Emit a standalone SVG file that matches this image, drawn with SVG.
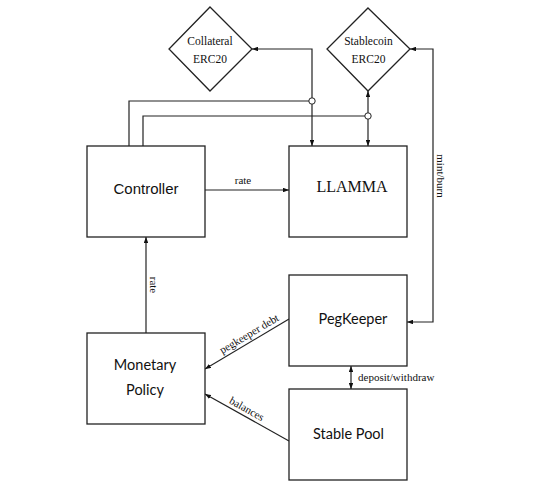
<svg xmlns="http://www.w3.org/2000/svg" width="549" height="501" viewBox="0 0 549 501">
<style>
.box{fill:#fff;stroke:#222;stroke-width:1.3}
.ln{fill:none;stroke:#222;stroke-width:1.2}
.jn{fill:#fff;stroke:#222;stroke-width:1}
.lbl{font-family:"Liberation Serif",serif;font-size:11px;fill:#111}
.sans{font-family:"Liberation Sans",sans-serif;font-size:15px;fill:#111}
.serif{font-family:"Liberation Serif",serif;font-size:16px;fill:#111}
.hum{font-family:Lato,"Open Sans",sans-serif;font-size:14.5px;fill:#111}
.dia{font-family:"Liberation Serif",serif;font-size:11.5px;fill:#111}
</style>
<defs>
<marker id="ah" viewBox="0 0 8 6" refX="8" refY="3" markerWidth="6" markerHeight="4.5" markerUnits="userSpaceOnUse" orient="auto-start-reverse">
<path d="M0,0 L8,3 L0,6 z" fill="#111"/>
</marker>
</defs>
<rect width="549" height="501" fill="#fff"/>
<g id="connectors">
<path class="ln" d="M252,49 H312 V146" marker-start="url(#ah)" marker-end="url(#ah)"/>
<path class="ln" d="M368,91 V146" marker-start="url(#ah)" marker-end="url(#ah)"/>
<path class="ln" d="M410,49 H433 V322 H407" marker-start="url(#ah)" marker-end="url(#ah)"/>
<path class="ln" d="M129,146 V101 H312"/>
<path class="ln" d="M143,146 V116 H368"/>
<circle class="jn" cx="312" cy="101" r="3.2"/>
<circle class="jn" cx="368" cy="116" r="3.2"/>
<path class="ln" d="M205,190 H289" marker-end="url(#ah)"/>
<text class="lbl" x="243" y="184" text-anchor="middle">rate</text>
<path class="ln" d="M146,333 V237" marker-end="url(#ah)"/>
<text class="lbl" transform="translate(150,285) rotate(90)" text-anchor="middle">rate</text>
<text class="lbl" transform="translate(437,176) rotate(90)" text-anchor="middle">mint/burn</text>
<path class="ln" d="M289,319 L205,369" marker-end="url(#ah)"/>
<text class="lbl" transform="translate(251,337) rotate(-30.8)" text-anchor="middle">pegkeeper debt</text>
<path class="ln" d="M289,441 L205,394" marker-end="url(#ah)"/>
<text class="lbl" transform="translate(245,412) rotate(29.2)" text-anchor="middle">balances</text>
<path class="ln" d="M351,366 V389" marker-start="url(#ah)" marker-end="url(#ah)"/>
<text class="lbl" x="358" y="381">deposit/withdraw</text>
</g>
<g id="collateral">
<path class="box" d="M210,7 L252,49 L210,91 L169,49 Z"/>
<text class="dia" x="210" y="45" text-anchor="middle">Collateral</text>
<text class="dia" x="210" y="63" text-anchor="middle">ERC20</text>
</g>
<g id="stablecoin">
<path class="box" d="M368,8 L410,49 L368,91 L327,49 Z"/>
<text class="dia" x="368.5" y="45" text-anchor="middle">Stablecoin</text>
<text class="dia" x="368.5" y="63" text-anchor="middle">ERC20</text>
</g>
<g id="controller">
<rect class="box" x="87" y="146" width="118" height="91"/>
<text class="sans" x="146" y="194" text-anchor="middle">Controller</text>
</g>
<g id="llamma">
<rect class="box" x="289" y="146" width="118" height="91"/>
<text class="serif" x="352" y="192" text-anchor="middle">LLAMMA</text>
</g>
<g id="pegkeeper">
<rect class="box" x="289" y="275" width="118" height="91"/>
<text class="hum" x="353" y="324" text-anchor="middle">PegKeeper</text>
</g>
<g id="monetary">
<rect class="box" x="87" y="333" width="118" height="91"/>
<text class="hum" x="145" y="370" text-anchor="middle">Monetary</text>
<text class="hum" x="145" y="395" text-anchor="middle">Policy</text>
</g>
<g id="stablepool">
<rect class="box" x="289" y="389" width="118" height="91"/>
<text class="hum" x="348.5" y="439" text-anchor="middle">Stable Pool</text>
</g>
</svg>
